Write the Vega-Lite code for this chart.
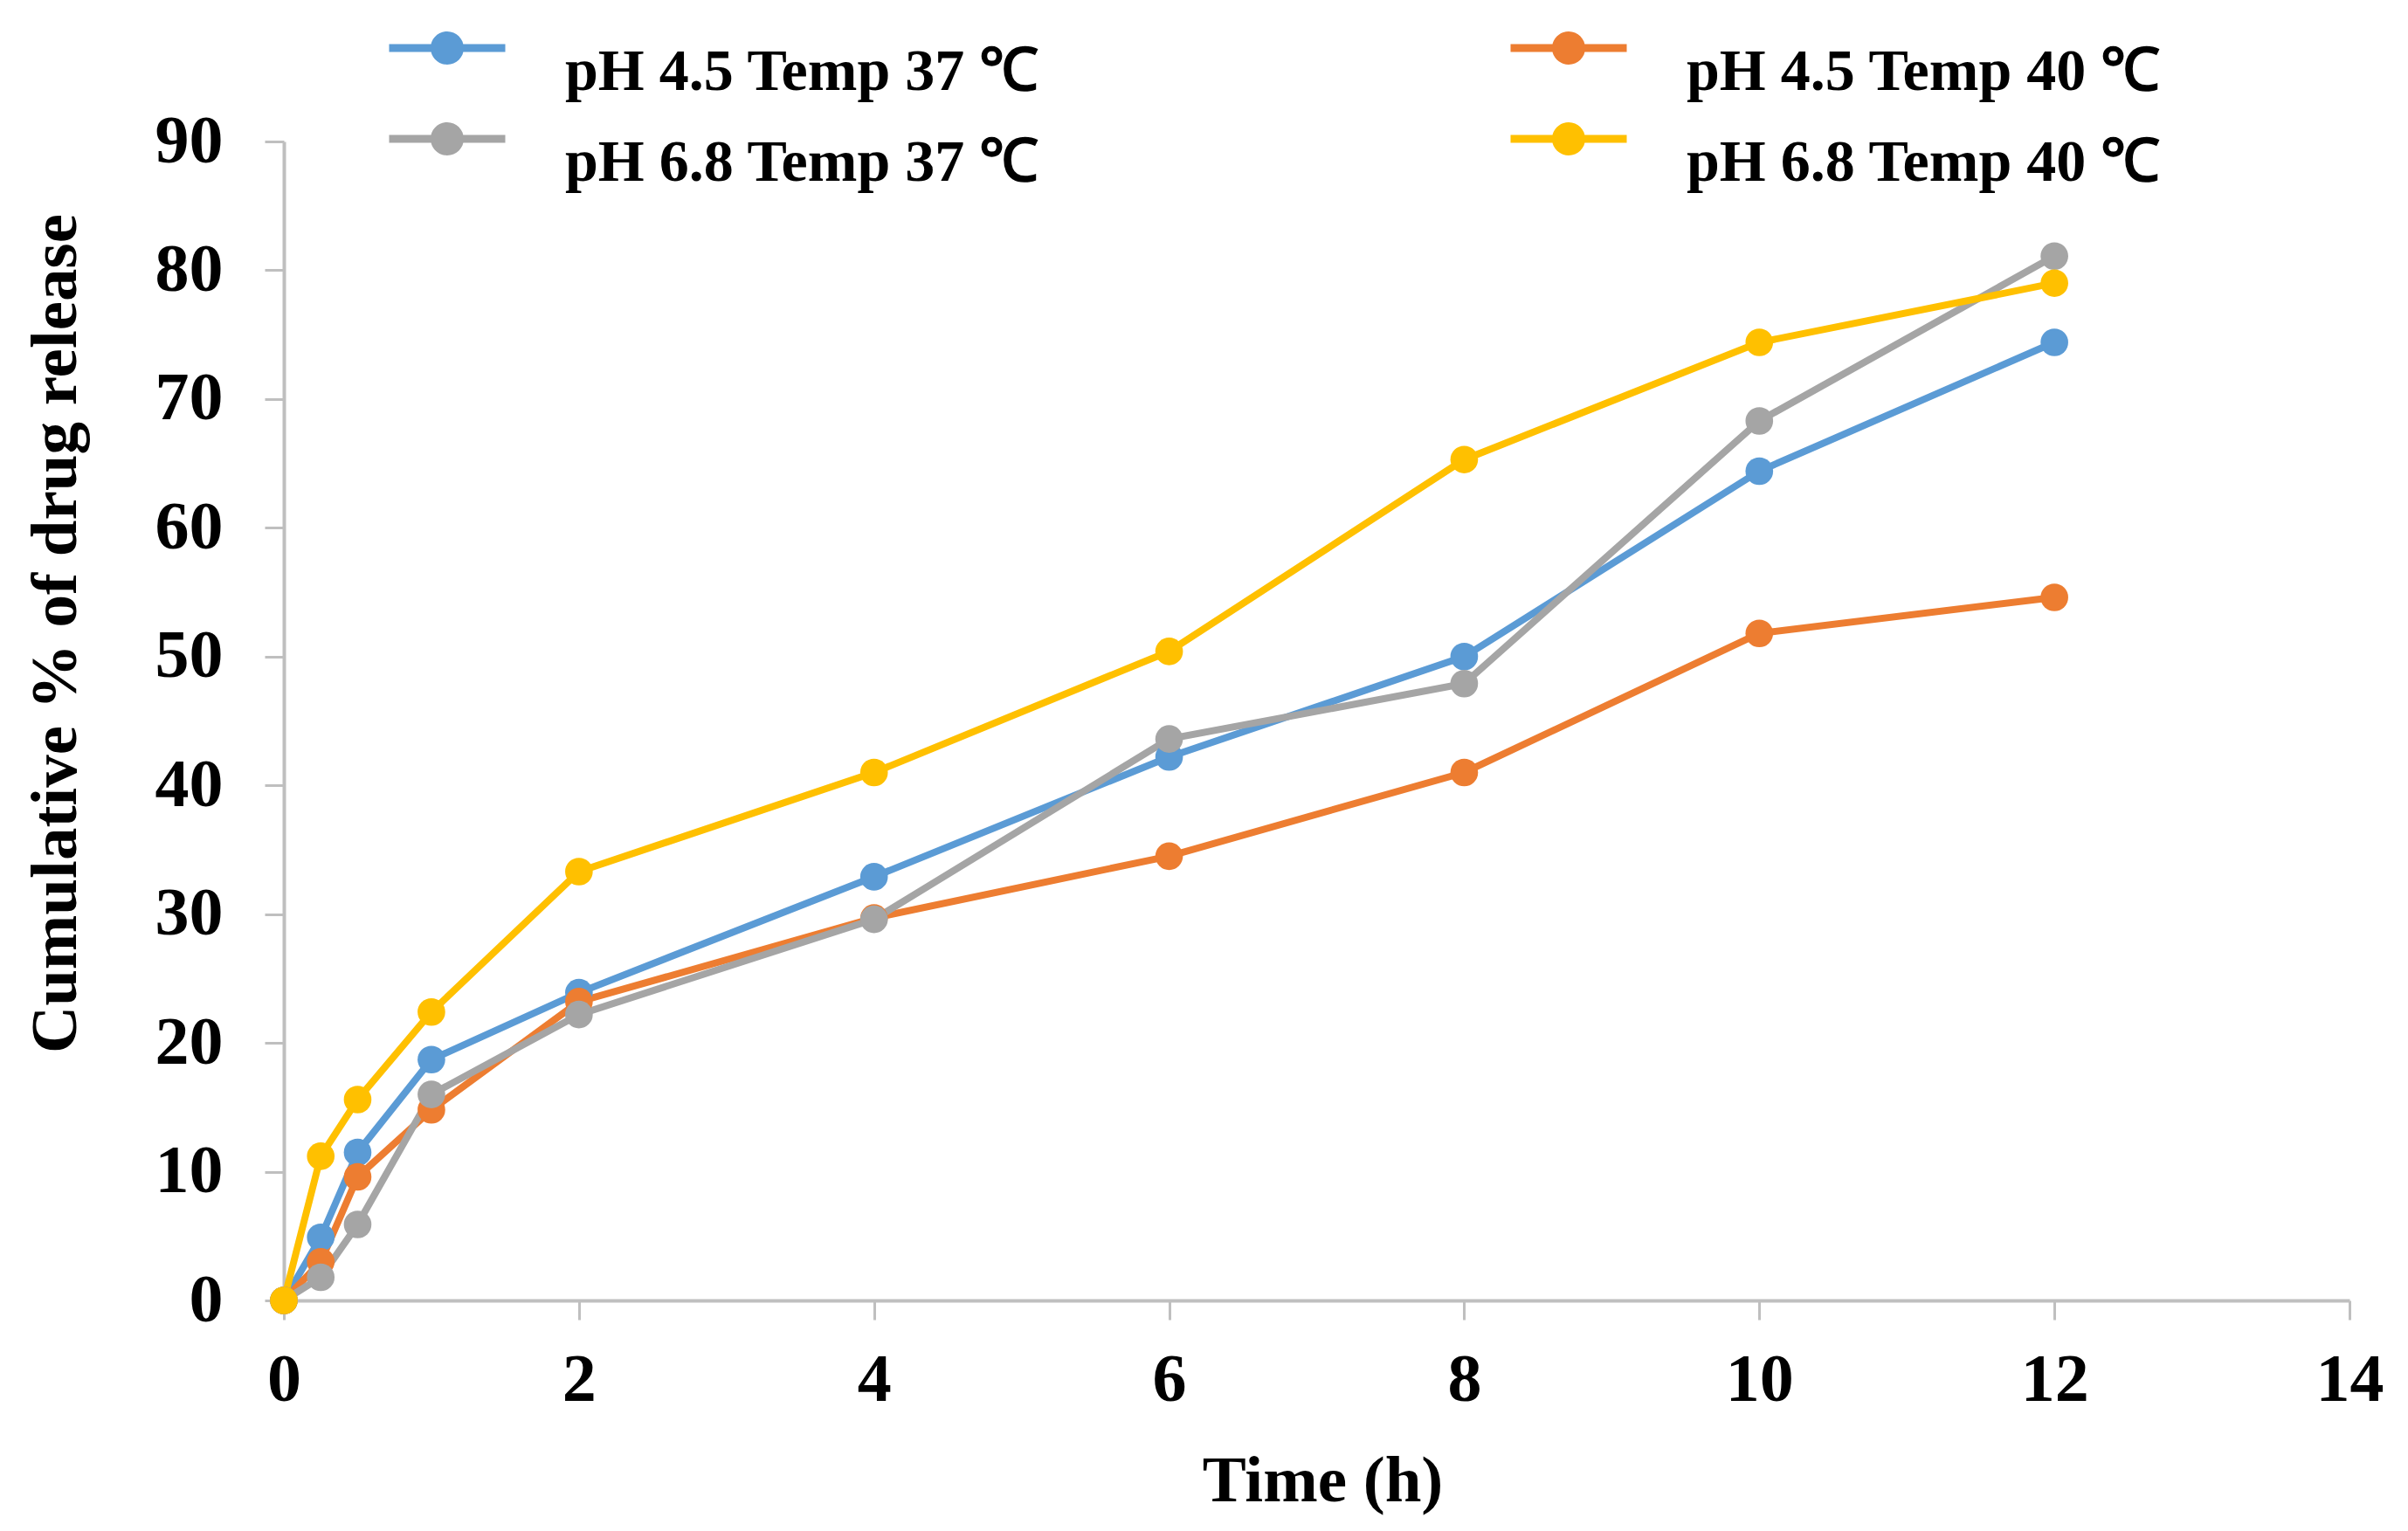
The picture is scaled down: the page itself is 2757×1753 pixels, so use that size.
{
  "$schema": "https://vega.github.io/schema/vega-lite/v6.json",
  "width": 2365,
  "height": 1327,
  "autosize": {"type": "none"},
  "padding": {"left": 325, "top": 162, "right": 67, "bottom": 264},
  "background": "white",
  "data": {
    "values": [
      {"time": 0, "value": 0, "series": "pH 4.5 Temp 37 ℃"},
      {"time": 0.25, "value": 4.9, "series": "pH 4.5 Temp 37 ℃"},
      {"time": 0.5, "value": 11.5, "series": "pH 4.5 Temp 37 ℃"},
      {"time": 1, "value": 18.7, "series": "pH 4.5 Temp 37 ℃"},
      {"time": 2, "value": 23.9, "series": "pH 4.5 Temp 37 ℃"},
      {"time": 4, "value": 32.9, "series": "pH 4.5 Temp 37 ℃"},
      {"time": 6, "value": 42.2, "series": "pH 4.5 Temp 37 ℃"},
      {"time": 8, "value": 50.0, "series": "pH 4.5 Temp 37 ℃"},
      {"time": 10, "value": 64.4, "series": "pH 4.5 Temp 37 ℃"},
      {"time": 12, "value": 74.4, "series": "pH 4.5 Temp 37 ℃"},
      {"time": 0, "value": 0, "series": "pH 4.5 Temp 40 ℃"},
      {"time": 0.25, "value": 3.0, "series": "pH 4.5 Temp 40 ℃"},
      {"time": 0.5, "value": 9.6, "series": "pH 4.5 Temp 40 ℃"},
      {"time": 1, "value": 14.8, "series": "pH 4.5 Temp 40 ℃"},
      {"time": 2, "value": 23.2, "series": "pH 4.5 Temp 40 ℃"},
      {"time": 4, "value": 29.7, "series": "pH 4.5 Temp 40 ℃"},
      {"time": 6, "value": 34.5, "series": "pH 4.5 Temp 40 ℃"},
      {"time": 8, "value": 41.0, "series": "pH 4.5 Temp 40 ℃"},
      {"time": 10, "value": 51.8, "series": "pH 4.5 Temp 40 ℃"},
      {"time": 12, "value": 54.6, "series": "pH 4.5 Temp 40 ℃"},
      {"time": 0, "value": 0, "series": "pH 6.8 Temp 37 ℃"},
      {"time": 0.25, "value": 1.8, "series": "pH 6.8 Temp 37 ℃"},
      {"time": 0.5, "value": 5.9, "series": "pH 6.8 Temp 37 ℃"},
      {"time": 1, "value": 16.0, "series": "pH 6.8 Temp 37 ℃"},
      {"time": 2, "value": 22.2, "series": "pH 6.8 Temp 37 ℃"},
      {"time": 4, "value": 29.6, "series": "pH 6.8 Temp 37 ℃"},
      {"time": 6, "value": 43.6, "series": "pH 6.8 Temp 37 ℃"},
      {"time": 8, "value": 47.9, "series": "pH 6.8 Temp 37 ℃"},
      {"time": 10, "value": 68.3, "series": "pH 6.8 Temp 37 ℃"},
      {"time": 12, "value": 81.1, "series": "pH 6.8 Temp 37 ℃"},
      {"time": 0, "value": 0, "series": "pH 6.8 Temp 40 ℃"},
      {"time": 0.25, "value": 11.2, "series": "pH 6.8 Temp 40 ℃"},
      {"time": 0.5, "value": 15.6, "series": "pH 6.8 Temp 40 ℃"},
      {"time": 1, "value": 22.4, "series": "pH 6.8 Temp 40 ℃"},
      {"time": 2, "value": 33.3, "series": "pH 6.8 Temp 40 ℃"},
      {"time": 4, "value": 41.0, "series": "pH 6.8 Temp 40 ℃"},
      {"time": 6, "value": 50.4, "series": "pH 6.8 Temp 40 ℃"},
      {"time": 8, "value": 65.3, "series": "pH 6.8 Temp 40 ℃"},
      {"time": 10, "value": 74.4, "series": "pH 6.8 Temp 40 ℃"},
      {"time": 12, "value": 79.0, "series": "pH 6.8 Temp 40 ℃"}
    ]
  },
  "mark": {"type": "line", "strokeWidth": 8, "point": {"filled": true, "size": 1000, "opacity": 1}},
  "encoding": {
    "x": {
      "field": "time",
      "type": "quantitative",
      "scale": {"domain": [0, 14], "nice": false, "zero": true},
      "axis": {
        "values": [0, 2, 4, 6, 8, 10, 12, 14],
        "title": "Time (h)",
        "labelPadding": 30,
        "titleX": 1189,
        "titleY": 229,
        "titleBaseline": "alphabetic",
        "titleAlign": "center",
        "titleAnchor": null
      }
    },
    "y": {
      "field": "value",
      "type": "quantitative",
      "scale": {"domain": [0, 90], "nice": false},
      "axis": {
        "values": [0, 10, 20, 30, 40, 50, 60, 70, 80, 90],
        "title": "Cumulative % of drug release",
        "labelPadding": 48,
        "titleAngle": 270,
        "titleX": -239,
        "titleY": 563,
        "titleBaseline": "alphabetic",
        "titleAlign": "center"
      }
    },
    "color": {
      "field": "series",
      "type": "nominal",
      "scale": {
        "domain": ["pH 4.5 Temp 37 ℃", "pH 4.5 Temp 40 ℃", "pH 6.8 Temp 37 ℃", "pH 6.8 Temp 40 ℃"],
        "range": ["#5B9BD5", "#ED7D31", "#A5A5A5", "#FFC000"]
      },
      "legend": {
        "title": null,
        "orient": "none",
        "legendX": 153,
        "legendY": -141,
        "direction": "horizontal",
        "columns": 2,
        "columnPadding": 538,
        "rowPadding": 8,
        "padding": 0,
        "symbolType": "M-2.66,-0.18H2.66V0.18H-2.66Z M0.76,0A0.76,0.76,0,1,1,-0.76,0A0.76,0.76,0,1,1,0.76,0Z",
        "symbolSize": 2500,
        "symbolStrokeWidth": 0,
        "labelFont": "Liberation Serif",
        "labelFontWeight": "bold",
        "labelFontSize": 68,
        "labelColor": "black",
        "labelOffset": 101,
        "labelLimit": 0,
        "labelBaseline": "alphabetic",
        "encode": {
          "symbols": {
            "update": {
              "fill": {"scale": "color", "field": "value"},
              "stroke": {"value": "transparent"},
              "opacity": {"value": 1}
            }
          },
          "labels": {
            "update": {
              "dy": {"value": 48}
            }
          }
        }
      }
    }
  },
  "config": {
    "view": {"stroke": null},
    "font": "Liberation Serif",
    "axis": {
      "grid": false,
      "domainColor": "#BFBFBF",
      "domainWidth": 4,
      "tickColor": "#BFBFBF",
      "tickWidth": 3,
      "tickSize": 22,
      "labelFont": "Liberation Serif",
      "labelFontWeight": "bold",
      "labelFontSize": 78,
      "labelColor": "black",
      "labelFlush": false,
      "labelOverlap": false,
      "titleFont": "Liberation Serif",
      "titleFontWeight": "bold",
      "titleFontSize": 75,
      "titleColor": "black"
    }
  }
}
